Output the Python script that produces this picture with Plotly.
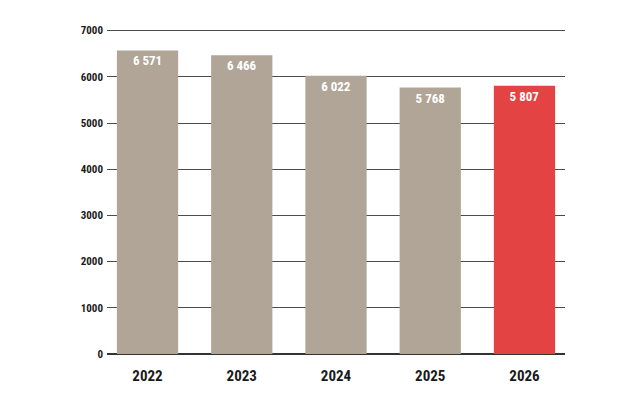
import plotly.graph_objects as go

years = ["2022", "2023", "2024", "2025", "2026"]
values = [6571, 6466, 6022, 5768, 5807]
bar_colors = ["#B0A597", "#B0A597", "#B0A597", "#B0A597", "#E44343"]
y_ticks = [0, 1000, 2000, 3000, 4000, 5000, 6000, 7000]

labels = [f"{v:,}".replace(",", " ") for v in values]

fig = go.Figure(go.Bar(
    x=years, y=values, marker=dict(color=bar_colors, line=dict(width=0)),
    width=0.65, text=labels, textposition="inside", insidetextanchor="end",
    textfont=dict(family="Roboto Condensed, DejaVu Sans Condensed, Roboto, Arial", size=13, color="white", weight="bold"),
    textangle=0,
))

fig.update_layout(
    width=644, height=414,
    margin=dict(l=99, r=87, t=18, b=68),
    paper_bgcolor="white", plot_bgcolor="white",
    showlegend=False,
    uniformtext=dict(minsize=8, mode="show"),
    xaxis=dict(
        type="category", range=[-0.43, 4.43], showgrid=False, showline=False,
        ticks="", tickfont=dict(family="Roboto Condensed, Roboto, Arial", size=15, color="#1a1a1a", weight="bold"),
        ticklabelstandoff=11,
    ),
    yaxis=dict(
        range=[0, 7100], tickvals=y_ticks, ticktext=[str(t) for t in y_ticks],
        showgrid=True, gridcolor="#4d4d4d", gridwidth=1.2,
        zeroline=True, zerolinecolor="#333333", zerolinewidth=1.8,
        showline=False, ticks="",
        tickfont=dict(family="Roboto Condensed, DejaVu Sans Condensed, Roboto, Arial", size=11, color="#1a1a1a", weight="bold"),
        ticklabelstandoff=3,
    ),
    bargap=0.35,
)

fig.write_html("out.html")
